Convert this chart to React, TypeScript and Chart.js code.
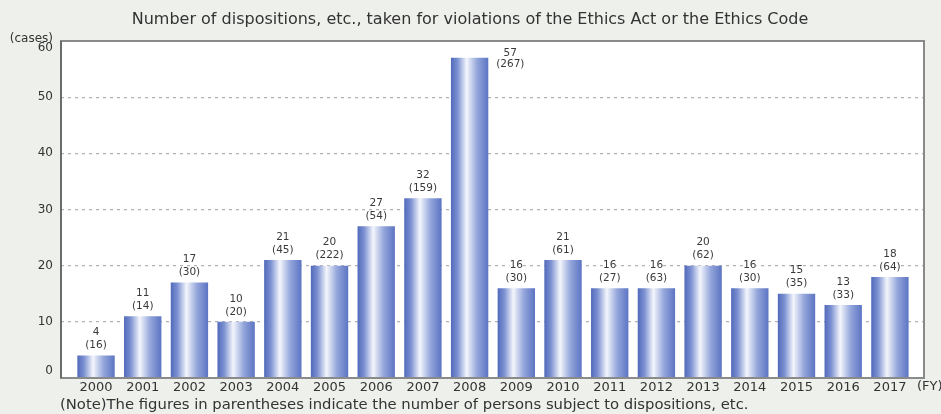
import React, { useEffect, useRef } from 'react';
import { Chart, registerables } from 'chart.js';

Chart.register(...registerables);

const years = ['2000', '2001', '2002', '2003', '2004', '2005', '2006', '2007', '2008', '2009', '2010', '2011', '2012', '2013', '2014', '2015', '2016', '2017'];
const dispositions = [4, 11, 17, 10, 21, 20, 27, 32, 57, 16, 21, 16, 16, 20, 16, 15, 13, 18];
const persons = [16, 14, 30, 20, 45, 222, 54, 159, 267, 30, 61, 27, 63, 62, 30, 35, 33, 64];
const yTickValues = [0, 10, 20, 30, 40, 50, 60];

const titleText = 'Number of dispositions, etc., taken for violations of the Ethics Act or the Ethics Code';
const noteText = '(Note)The figures in parentheses indicate the number of persons subject to dispositions, etc.';
const yUnitText = '(cases)';
const xUnitText = '(FY)';

const FONT = '"DejaVu Sans", Verdana, sans-serif';
const BAR_PCT = 0.8;
const PAGE_BG = '#eef0ec';

const decorPlugin = {
  id: 'decor',
  beforeDraw(chart: any) {
    const { ctx, chartArea: a, width, height } = chart;
    ctx.save();
    ctx.fillStyle = PAGE_BG;
    ctx.fillRect(0, 0, width, height);
    ctx.fillStyle = '#ffffff';
    ctx.fillRect(a.left, a.top, a.right - a.left, a.bottom - a.top);
    ctx.restore();
  },
  afterDatasetsDraw(chart: any) {
    const { ctx, chartArea: a } = chart;
    ctx.save();
    // plot frame
    ctx.strokeStyle = '#8a8a8a';
    ctx.lineWidth = 2;
    ctx.strokeRect(a.left, a.top, a.right - a.left, a.bottom - a.top);
    ctx.strokeStyle = '#6b6b6b';
    ctx.beginPath();
    ctx.moveTo(a.left, a.top);
    ctx.lineTo(a.left, a.bottom);
    ctx.stroke();

    // value labels
    const meta = chart.getDatasetMeta(0);
    ctx.font = `10.5px ${FONT}`;
    ctx.textAlign = 'center';
    ctx.textBaseline = 'middle';
    meta.data.forEach((el: any, i: number) => {
      const top = el.y;
      let cx: number, y1: number, y2: number;
      if (top - a.top < 30) {
        cx = el.x + el.width / 2 + 22;
        y1 = top - 5;
        y2 = top + 6;
      } else {
        cx = el.x;
        y1 = top - 23;
        y2 = top - 10;
      }
      const lines: [string, number][] = [[String(dispositions[i]), y1], [`(${persons[i]})`, y2]];
      lines.forEach(([t, y]) => {
        const w = ctx.measureText(t).width;
        ctx.fillStyle = '#ffffff';
        ctx.fillRect(cx - w / 2, y - 4, w, 8);
        ctx.fillStyle = '#3a3a3a';
        ctx.fillText(t, cx, y);
      });
    });
    ctx.restore();
  },
  afterDraw(chart: any) {
    const { ctx } = chart;
    ctx.save();
    ctx.fillStyle = '#333333';
    ctx.textBaseline = 'middle';

    ctx.font = `16px ${FONT}`;
    ctx.textAlign = 'center';
    ctx.fillText(titleText, 470, 20);

    ctx.font = `12px ${FONT}`;
    ctx.textAlign = 'right';
    ctx.fillText(yUnitText, 53, 39);

    ctx.font = `13px ${FONT}`;
    ctx.textAlign = 'left';
    ctx.fillText(xUnitText, 917, 387);

    ctx.font = `14.8px ${FONT}`;
    ctx.textAlign = 'left';
    ctx.fillText(noteText, 60, 405);
    ctx.restore();
  },
};

function barGradient(c: any) {
  const chart = c.chart;
  const xs = chart.scales && chart.scales.x;
  if (!xs || c.type !== 'data' || !chart.chartArea) return '#6a82cc';
  const center = xs.getPixelForValue(c.dataIndex);
  const half = ((xs.getPixelForValue(1) - xs.getPixelForValue(0)) * BAR_PCT) / 2;
  const g = chart.ctx.createLinearGradient(center - half, 0, center + half, 0);
  g.addColorStop(0, '#5169bb');
  g.addColorStop(0.18, '#7d92d2');
  g.addColorStop(0.42, '#f4f6fc');
  g.addColorStop(0.7, '#94a6db');
  g.addColorStop(1, '#5c74c3');
  return g;
}

export default function App() {
  const canvasRef = useRef<HTMLCanvasElement | null>(null);

  useEffect(() => {
    const canvas = canvasRef.current;
    if (!canvas) return;
    const chart = new Chart(canvas, {
      type: 'bar',
      data: {
        datasets: [
          {
            data: dispositions.map((v, i) => ({ x: i, y: v })),
            backgroundColor: barGradient as any,
            borderWidth: 0,
            categoryPercentage: 1,
            barPercentage: BAR_PCT,
          },
        ],
      },
      options: {
        animation: false,
        responsive: false,
        devicePixelRatio: 1,
        layout: { padding: { top: 41, right: 17, left: 0, bottom: 0 } },
        plugins: {
          legend: { display: false },
          title: { display: false },
          tooltip: { enabled: false },
        },
        scales: {
          x: {
            type: 'linear',
            offset: false,
            bounds: 'data',
            min: -0.75,
            max: 17.73,
            grid: { display: false, drawTicks: false },
            border: { display: false },
            afterBuildTicks: (s: any) => {
              s.ticks = years.map((_, i) => ({ value: i }));
            },
            afterFit: (s: any) => {
              s.height = 36;
            },
            ticks: {
              autoSkip: false,
              maxRotation: 0,
              padding: 2,
              color: '#333333',
              font: { family: FONT, size: 13 },
              callback: (v: any) => years[v] ?? '',
            },
          },
          y: {
            min: 0,
            max: 60,
            afterBuildTicks: (s: any) => {
              s.ticks = yTickValues.map((v) => ({ value: v }));
            },
            afterFit: (s: any) => {
              s.width = 61;
            },
            grid: {
              drawTicks: false,
              lineWidth: 1.3,
              color: (c: any) =>
                c.tick && (c.tick.value === 0 || c.tick.value === 60) ? 'rgba(0,0,0,0)' : '#b2b2b2',
            },
            border: { display: false, dash: [3, 4] },
            ticks: {
              padding: 8,
              color: '#333333',
              font: { family: FONT, size: 12 },
              callback: (v: any) => (v === 60 ? ['', '60'] : v === 0 ? ['0', ''] : String(v)),
            },
          },
        },
      },
      plugins: [decorPlugin],
    } as any);
    return () => chart.destroy();
  }, []);

  return (
    <div style={{ position: 'fixed', left: 0, top: 0, width: 941, height: 414, background: PAGE_BG }}>
      <canvas ref={canvasRef} width={941} height={414} style={{ width: 941, height: 414, display: 'block' }} />
    </div>
  );
}
